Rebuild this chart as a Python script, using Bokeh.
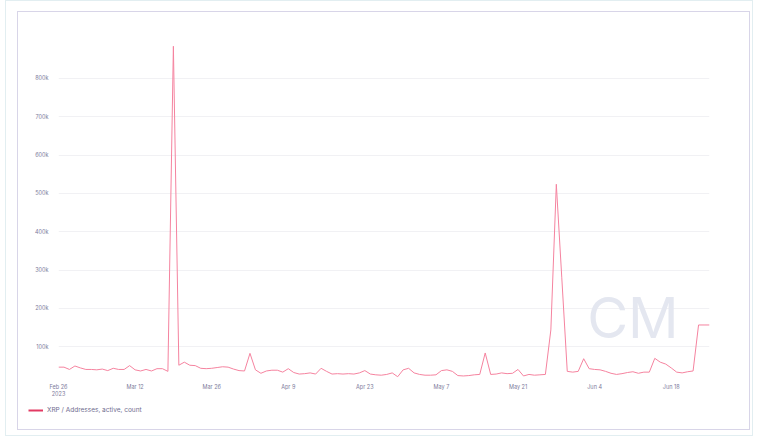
import pandas as pd
from bokeh.plotting import figure
from bokeh.layouts import column
from bokeh.models import Range1d, FixedTicker, Legend, LegendItem, Label, ColumnDataSource
from bokeh.embed import file_html
from bokeh.resources import INLINE

# ---- data (daily active XRP addresses, thousands) ----
start_date = "2023-02-26"
active_k = [
    47, 47, 41, 50, 45, 41, 41, 40, 42, 38, 44, 41, 41, 51, 40, 37, 41, 37, 43, 43, 36,   # Feb 26 - Mar 18
    884, 52, 60, 52, 51, 44, 43, 44, 46, 48, 47, 42, 38, 37,                              # Mar 19 - Apr 1
    83, 40, 31, 37, 39, 39, 34, 43, 33, 29, 30, 32, 29, 44, 36,                           # Apr 2 - Apr 16
    29, 30, 29, 30, 29, 32, 38, 29, 27, 26, 28, 32, 22, 40,                               # Apr 17 - Apr 30
    44, 32, 28, 26, 26, 27, 38, 40, 36, 25, 24, 25, 27, 28,                               # May 1 - May 14
    84, 28, 29, 32, 30, 31, 41, 24, 28, 26, 27, 28, 144, 524, 280,                        # May 15 - May 29
    36, 34, 36, 69, 43, 41, 40, 36, 31, 28, 30, 33, 35, 31, 34, 34,                       # May 30 - Jun 14
    70, 60, 55, 45, 34, 32, 35, 37, 157, 157, 157,                                        # Jun 15 - Jun 25
]
series_name = "XRP / Addresses, active, count"

x_tick_dates = ["2023-02-26", "2023-03-12", "2023-03-26", "2023-04-09", "2023-04-23",
                "2023-05-07", "2023-05-21", "2023-06-04", "2023-06-18"]
x_tick_labels = ["Feb 26\n2023", "Mar 12", "Mar 26", "Apr 9", "Apr 23",
                 "May 7", "May 21", "Jun 4", "Jun 18"]
y_ticks = [100000, 200000, 300000, 400000, 500000, 600000, 700000, 800000]
y_tick_labels = ["100k", "200k", "300k", "400k", "500k", "600k", "700k", "800k"]

# ---- build ----
dates = pd.date_range(start_date, periods=len(active_k), freq="D")
values = [v * 1000 for v in active_k]
src = ColumnDataSource(dict(date=dates, value=values))

LINE = "#f5839f"
TXT = "#7d7b9c"
FONT = "Inter"

p = figure(width=731, height=390, x_axis_type="datetime",
           output_backend="svg", toolbar_location=None,
           min_border_left=40, min_border_right=40,
           min_border_top=33, min_border_bottom=25,
           frame_align=False,
           x_range=Range1d(dates[0], dates[-1]),
           y_range=Range1d(20000, 886000))
p.outline_line_color = None
p.background_fill_color = "white"
p.border_fill_color = "white"

r = p.line("date", "value", source=src, line_color=LINE, line_width=1)

# axes
tick_ms = [pd.Timestamp(d).value // 10**6 for d in x_tick_dates]
p.xaxis.ticker = FixedTicker(ticks=tick_ms)
p.xaxis.major_label_overrides = {t: l for t, l in zip(tick_ms, x_tick_labels)}
p.yaxis.ticker = FixedTicker(ticks=y_ticks)
p.yaxis.major_label_overrides = {t: l for t, l in zip(y_ticks, y_tick_labels)}
for ax in (p.xaxis, p.yaxis):
    ax.axis_line_color = None
    ax.major_tick_line_color = None
    ax.minor_tick_line_color = None
    ax.major_label_text_color = TXT
    ax.major_label_text_font = FONT
    ax.major_label_text_font_size = "5.5px"
p.xaxis.major_label_standoff = 0
p.yaxis.major_label_standoff = 4

p.xgrid.grid_line_color = None
p.ygrid.grid_line_color = "#f1f1f4"
p.ygrid.grid_line_width = 1

# watermark
wm = Label(x=pd.Timestamp("2023-06-11"), y=175000, text="CM",
           text_font=FONT, text_font_size="56px", text_color="#e4e7f0",
           text_align="center", text_baseline="middle", level="underlay")
p.add_layout(wm)

# legend strip
lf = figure(width=731, height=27, output_backend="svg", toolbar_location=None,
            x_axis_location=None, y_axis_location=None,
            min_border=0, min_border_left=0, min_border_right=0,
            min_border_top=0, min_border_bottom=0,
            frame_align=False,
            x_range=Range1d(0, 1), y_range=Range1d(0, 1))
lf.outline_line_color = None
lf.xgrid.visible = False
lf.ygrid.visible = False
lf.background_fill_color = "white"
lf.border_fill_color = "white"
legend_r = lf.line(x=[-3, -2], y=[-3, -2], line_color="#e23a63", line_width=2)
legend = Legend(items=[LegendItem(label=series_name, renderers=[legend_r])],
                location=(10, 15), orientation="horizontal",
                background_fill_alpha=0, border_line_alpha=0,
                padding=0, margin=0, spacing=0,
                glyph_width=15, glyph_height=8, label_standoff=4,
                label_text_font=FONT, label_text_font_size="6.5px",
                label_text_color="#6f6d8f")
lf.add_layout(legend)

inner = column(p, lf, spacing=0,
               styles={"border": "1px solid #d8d5e8", "background-color": "white"})
root = column(inner, spacing=0, margin=(0, 0, 0, 5),
              styles={"border": "1px solid #e2eef1", "background-color": "white",
                      "padding": "10px 2px 5px 11px"})

open("out.html", "w").write(file_html(root, INLINE))
